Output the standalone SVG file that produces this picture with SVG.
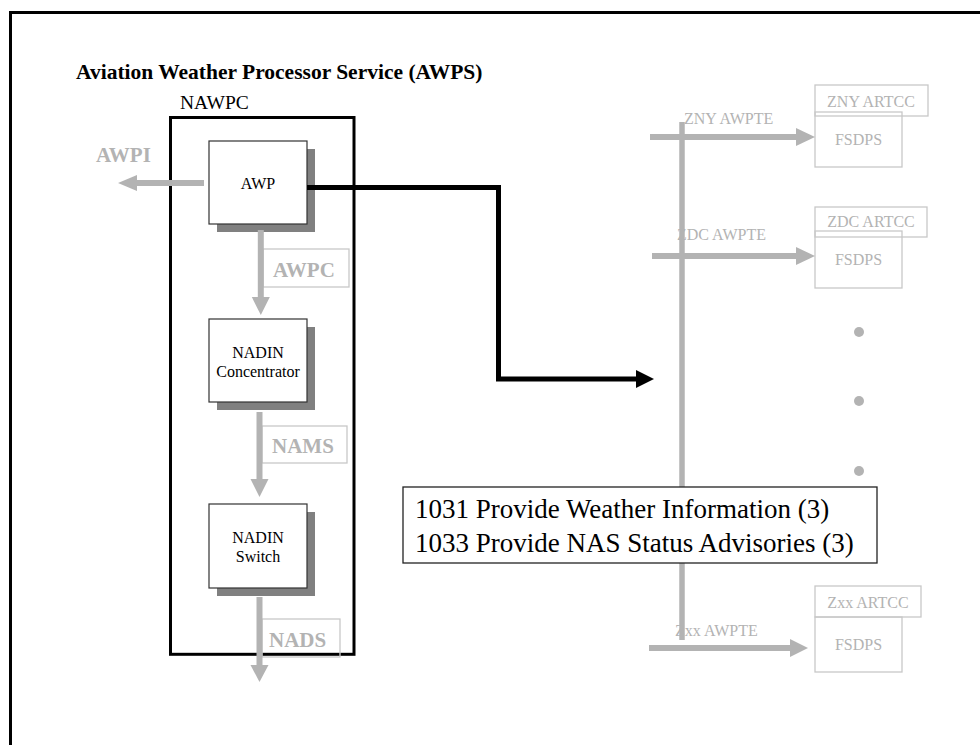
<svg xmlns="http://www.w3.org/2000/svg" width="980" height="745" viewBox="0 0 980 745" font-family="'Liberation Serif', 'Times New Roman', serif">
<style>
.node{fill:#fff;stroke:#333;stroke-width:1.2}
.shadow{fill:#808080}
.nt{font-size:16px;fill:#000;text-anchor:middle}
.gl{font-size:21px;font-weight:bold;fill:#b3b3b3}
.gbox{fill:none;stroke:#c8c8c8;stroke-width:1.3}
.gt{font-size:16px;fill:#b3b3b3}
.gshaft{stroke:#b3b3b3;stroke-width:6;fill:none}
.ghead{fill:#b3b3b3}
</style>
<rect width="980" height="745" fill="#fff"/>
<path d="M10.5,745 V12.5 H980" fill="none" stroke="#000" stroke-width="3"/>
<text x="76" y="79" font-size="21.5" font-weight="bold" font-family="'Liberation Serif', serif">Aviation Weather Processor Service (AWPS)</text>

<g id="nawpc">
<text x="180" y="109" font-size="19.5" font-family="'Liberation Serif', serif">NAWPC</text>
<rect x="170.5" y="117.5" width="183.5" height="536.8" fill="none" stroke="#000" stroke-width="3"/>
</g>

<g id="awp" font-family="'Liberation Serif', serif">
<rect class="shadow" x="217" y="149" width="98" height="83"/>
<rect class="node" x="209" y="141" width="98" height="83"/>
<text class="nt" x="258" y="189">AWP</text>
</g>
<g id="nadin-concentrator" font-family="'Liberation Serif', serif">
<rect class="shadow" x="217" y="327" width="98" height="83"/>
<rect class="node" x="209" y="319" width="98" height="83"/>
<text class="nt" x="258" y="358">NADIN</text>
<text class="nt" x="258" y="377">Concentrator</text>
</g>
<g id="nadin-switch" font-family="'Liberation Serif', serif">
<rect class="shadow" x="217" y="512" width="98" height="84"/>
<rect class="node" x="209" y="504" width="98" height="84"/>
<text class="nt" x="258" y="543">NADIN</text>
<text class="nt" x="258" y="562">Switch</text>
</g>

<g id="label-awpi" font-family="'Liberation Serif', serif"><text class="gl" x="96" y="162">AWPI</text></g>
<g id="label-awpc" font-family="'Liberation Serif', serif"><rect class="gbox" x="263" y="249" width="86" height="38"/><text class="gl" x="273" y="277">AWPC</text></g>
<g id="label-nams" font-family="'Liberation Serif', serif"><rect class="gbox" x="262" y="426" width="85" height="37"/><text class="gl" x="272" y="453">NAMS</text></g>
<g id="label-nads" font-family="'Liberation Serif', serif"><rect class="gbox" x="262" y="619" width="78" height="38"/><text class="gl" x="269" y="647">NADS</text></g>

<g id="zny" font-family="'Liberation Serif', serif">
<rect class="gbox" x="815" y="85" width="113" height="31"/>
<text class="gt" x="871" y="107" text-anchor="middle">ZNY ARTCC</text>
<rect class="gbox" x="815" y="112" width="87" height="55"/>
<text class="gt" x="858.5" y="145" text-anchor="middle">FSDPS</text>
</g>
<g id="zdc" font-family="'Liberation Serif', serif">
<rect class="gbox" x="815" y="207" width="112" height="30"/>
<text class="gt" x="871" y="227" text-anchor="middle">ZDC ARTCC</text>
<rect class="gbox" x="815" y="231" width="87" height="57"/>
<text class="gt" x="858.5" y="265" text-anchor="middle">FSDPS</text>
</g>
<g id="zxx" font-family="'Liberation Serif', serif">
<rect class="gbox" x="815" y="586" width="106" height="31"/>
<text class="gt" x="868" y="608" text-anchor="middle">Zxx ARTCC</text>
<rect class="gbox" x="815" y="617" width="87" height="55"/>
<text class="gt" x="858.5" y="650" text-anchor="middle">FSDPS</text>
</g>
<g id="ellipsis" fill="#b3b3b3">
<circle cx="859" cy="332" r="5"/>
<circle cx="859" cy="401" r="5"/>
<circle cx="859" cy="471" r="5"/>
</g>

<g id="connectors" font-family="'Liberation Serif', serif">
<line class="gshaft" x1="204" y1="183" x2="135" y2="183"/>
<polygon class="ghead" points="137,175 118,183 137,191"/>
<line class="gshaft" x1="260.8" y1="230" x2="260.8" y2="299"/>
<polygon class="ghead" points="251.8,297 269.8,297 260.8,315"/>
<line class="gshaft" x1="259.5" y1="412" x2="259.5" y2="481"/>
<polygon class="ghead" points="250.5,479 268.5,479 259.5,497"/>
<line class="gshaft" x1="259.5" y1="597" x2="259.5" y2="667"/>
<polygon class="ghead" points="250.5,665 268.5,665 259.5,682"/>

<text class="gt" x="684" y="124" font-size="16.5">ZNY AWPTE</text>
<text class="gt" x="677" y="240" font-size="16.5">ZDC AWPTE</text>
<text class="gt" x="675" y="636" font-size="16.5">Zxx AWPTE</text>
<line class="gshaft" x1="650" y1="137" x2="798" y2="137"/>
<polygon class="ghead" points="796,128 815,137 796,146"/>
<line class="gshaft" x1="652" y1="256" x2="798" y2="256"/>
<polygon class="ghead" points="796,247 815,256 796,265"/>
<line class="gshaft" x1="649" y1="648" x2="792" y2="648"/>
<polygon class="ghead" points="790,639 808,648 790,657"/>
<line x1="682" y1="122" x2="682" y2="640" stroke="#b3b3b3" stroke-width="5.5"/>

<path d="M307,187.5 H498.5 V379 H638" fill="none" stroke="#000" stroke-width="5"/>
<polygon points="636,370 654,379 636,388" fill="#000"/>
</g>

<g id="functions" font-family="'Liberation Serif', serif">
<rect x="403" y="487" width="474" height="76" fill="#fff" stroke="#222" stroke-width="1.3"/>
<text x="415" y="518" font-size="27">1031 Provide Weather Information (3)</text>
<text x="415" y="552" font-size="27">1033 Provide NAS Status Advisories (3)</text>
</g>
</svg>
